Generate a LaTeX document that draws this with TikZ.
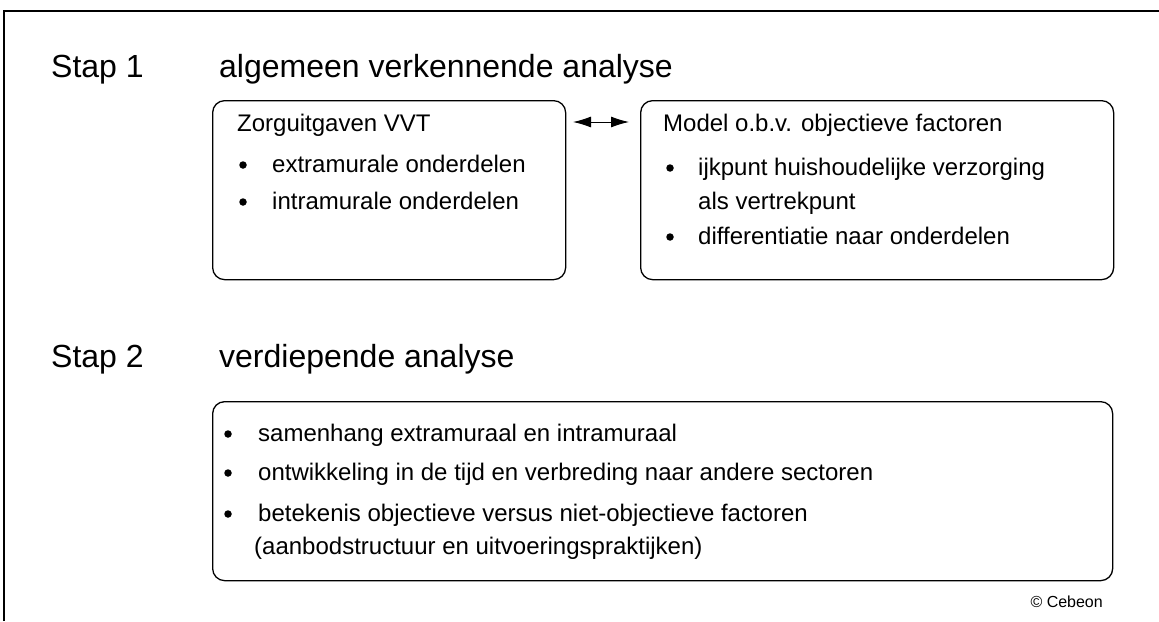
\documentclass[tikz,border=0pt]{standalone}
\usepackage{fontspec}
\setmainfont{Liberation Sans}
\usetikzlibrary{arrows.meta}
\tikzset{
  stapbox/.style={draw, line width=1.3pt, rounded corners=12pt, anchor=north west, inner sep=0pt},
  kop/.style={anchor=base west, inner sep=0pt, font=\fontsize{32}{38}\selectfont},
  tekst/.style={anchor=base west, inner sep=0pt, font=\fontsize{24}{29}\selectfont},
  punt/.style={circle, fill, inner sep=0pt, minimum size=7.5pt},
}

\begin{document}
\begin{tikzpicture}[x=1pt, y=-1pt]
        \useasboundingbox (0,0) rectangle (1159,621);
        \draw[line width=2pt] (4,621) -- (4,11) -- (1159,11);

        \node[kop] (stap1) at (51,77) {Stap 1};
        \node[kop] (kop1) at (219,77) {algemeen verkennende analyse};
        \node[stapbox, minimum width=353pt, minimum height=179pt] (zorg) at (212,100) {};
        \node[stapbox, minimum width=473pt, minimum height=179pt] (model) at (640,100) {};

        \node[tekst] (zorgkop) at (237,131) {Zorguitgaven VVT};
        \foreach \y/\t [count=\i] in {172/extramurale onderdelen, 209/intramurale onderdelen} {
          \node[punt] (zp\i) at (243,\y-7) {};
          \node[tekst] (zt\i) at (272,\y) {\t};
        }

        \node[tekst] (modelkop) at (663,131) {Model o.b.v. objectieve factoren};
        \node[punt] (mp1) at (670,168) {};
        \node[tekst] (mt1) at (698,175) {ijkpunt huishoudelijke verzorging};
        \node[tekst] (mt2) at (698,209) {als vertrekpunt};
        \node[punt] (mp2) at (670,237) {};
        \node[tekst] (mt3) at (698,244) {differentiatie naar onderdelen};

        \coordinate (pijlL) at (573,122);
        \coordinate (pijlR) at (629,122);
        \draw[{Latex[length=18pt,width=11pt]}-{Latex[length=18pt,width=11pt]}, line width=1pt] (pijlL) -- (pijlR);

        \node[kop] (stap2) at (51,367) {Stap 2};
        \node[kop] (kop2) at (219,367) {verdiepende analyse};
        \node[stapbox, minimum width=900pt, minimum height=179pt] (verdiep) at (212,401) {};
        \foreach \y/\t [count=\i] in {441/samenhang extramuraal en intramuraal, 480/ontwikkeling in de tijd en verbreding naar andere sectoren, 521/betekenis objectieve versus niet-objectieve factoren} {
          \node[punt] (vp\i) at (228,\y-7) {};
          \node[tekst] (vt\i) at (258,\y) {\t};
        }
        \node[tekst] (vt4) at (254,554) {(aanbodstructuur en uitvoeringspraktijken)};

        \node[anchor=base east, inner sep=0pt, font=\fontsize{16}{19}\selectfont] (bron) at (1103,607) {© Cebeon};
\end{tikzpicture}
\end{document}
